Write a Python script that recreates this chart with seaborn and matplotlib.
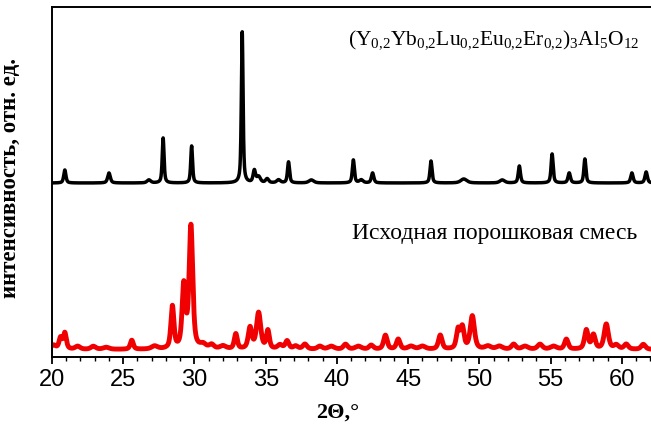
import numpy as np
import pandas as pd
import matplotlib
matplotlib.use("Agg")
import matplotlib.pyplot as plt
import seaborn as sns

# peak lists: position (2theta, deg), height (rel. units), FWHM (deg)
garnet_pos = [20.9, 24.0, 26.8, 27.8, 29.8, 33.35, 34.2, 34.5, 35.1, 35.9, 36.6, 38.2,
              41.15, 41.7, 42.5, 46.6, 48.9, 51.6, 52.8, 55.1, 56.3, 57.4, 60.7, 61.7]
garnet_int = [13, 10, 3, 45, 37, 151, 12, 6, 4, 3, 21, 3,
              23, 3, 10, 22, 4, 3, 17, 29, 10, 24, 10, 11]
garnet_fwhm = [0.18, 0.22, 0.3, 0.15, 0.15, 0.14, 0.2, 0.3, 0.25, 0.3, 0.17, 0.4,
               0.17, 0.3, 0.2, 0.17, 0.5, 0.4, 0.18, 0.17, 0.2, 0.17, 0.2, 0.2]

mix_pos = [20.1, 20.6, 20.9, 21.8, 22.9, 23.8, 25.6, 27.2, 28.45, 29.25, 29.75, 30.6, 31.2,
           32.0, 32.9, 33.9, 34.5, 35.15, 36.0, 36.5, 37.1, 37.75, 38.8, 39.6, 40.6, 41.5,
           42.4, 43.4, 44.3, 45.2, 46.0, 47.25, 48.5, 48.8, 49.5, 50.6, 51.4, 52.4, 53.2,
           54.25, 55.2, 56.1, 57.5, 58.0, 58.9, 59.6, 60.3, 61.5]
mix_int = [4, 11, 16, 3, 3, 2, 9, 3, 42, 62, 122, 4, 4,
           3, 15, 21, 36, 18, 4, 8, 3, 5, 3, 3, 5, 3,
           4, 14, 10, 3, 3, 14, 19, 21, 33, 3, 3, 5, 3,
           5, 3, 10, 19, 14, 25, 4, 5, 5]
mix_fwhm = [0.4, 0.25, 0.25, 0.4, 0.4, 0.5, 0.25, 0.5, 0.25, 0.28, 0.3, 0.5, 0.4,
            0.5, 0.25, 0.3, 0.35, 0.25, 0.4, 0.3, 0.4, 0.35, 0.4, 0.5, 0.35, 0.5,
            0.35, 0.3, 0.3, 0.5, 0.5, 0.3, 0.28, 0.28, 0.35, 0.5, 0.5, 0.35, 0.5,
            0.4, 0.5, 0.3, 0.3, 0.3, 0.35, 0.4, 0.35, 0.35]

x_ticks = [20, 25, 30, 35, 40, 45, 50, 55, 60]


def profile(tt, pos, amp, fwhm):
    y = np.zeros_like(tt)
    for p, a, w in zip(pos, amp, fwhm):
        g = w / 2.0
        y += a * (0.6 * g**2 / ((tt - p)**2 + g**2)
                  + 0.4 * np.exp(-4 * np.log(2) * (tt - p)**2 / w**2))
    return y


two_theta = np.arange(20.0, 62.1, 0.01)
garnet = profile(two_theta, garnet_pos, garnet_int, garnet_fwhm)
mix = profile(two_theta, mix_pos, mix_int, mix_fwhm)

df = pd.concat([
    pd.DataFrame({"2theta": two_theta, "I": garnet + 174, "sample": "garnet"}),
    pd.DataFrame({"2theta": two_theta, "I": mix + 7.5, "sample": "mix"}),
])

sns.set_style("ticks")
plt.rcParams["font.family"] = ["Liberation Sans", "DejaVu Sans"]
plt.rcParams["mathtext.fontset"] = "custom"
plt.rcParams["mathtext.rm"] = "Liberation Serif"
plt.rcParams["mathtext.it"] = "Liberation Serif:italic"
for key in ["text.color", "axes.labelcolor", "xtick.color", "axes.edgecolor"]:
    plt.rcParams[key] = "black"

fig = plt.figure(figsize=(6.51, 4.25), dpi=100)
ax = fig.add_axes([52 / 651, 68 / 425, 599 / 651, 350 / 425])

sns.lineplot(data=df[df["sample"] == "garnet"], x="2theta", y="I", color="black",
             lw=2.5, ax=ax, legend=False)
sns.lineplot(data=df[df["sample"] == "mix"], x="2theta", y="I", color="#f00000",
             lw=3.5, ax=ax, legend=False)

ax.set_xlim(20, 62.04)
ax.set_ylim(0, 350)
ax.set_xticks(x_ticks)
ax.set_xticks(np.arange(20, 63, 1), minor=True)
ax.set_yticks([])
ax.tick_params(axis="x", which="major", direction="out", length=5, width=1.3,
               labelsize=17, pad=4)
ax.tick_params(axis="x", which="minor", direction="out", length=3, width=1.0)
ax.spines["right"].set_visible(False)
for s in ["left", "bottom", "top"]:
    ax.spines[s].set_linewidth(1.4)

ax.set_xlabel("2Θ,°", family="Liberation Serif", fontweight="bold", fontsize=16)
ax.xaxis.set_label_coords(0.477, -0.13)
ax.set_ylabel("интенсивность, отн. ед.", family="Liberation Serif",
              fontweight="bold", fontsize=16.5)
ax.yaxis.set_label_coords(-0.052, 0.51)

ax.text(51.0, 0.906, r"$\mathrm{(Y_{0{,}2}Yb_{0{,}2}Lu_{0{,}2}Eu_{0{,}2}Er_{0{,}2})_3Al_5O_{12}}$",
        transform=ax.get_xaxis_transform(), ha="center", va="center", fontsize=15.5)
ax.text(51.1, 0.354, "Исходная порошковая смесь", family="Liberation Serif",
        transform=ax.get_xaxis_transform(), ha="center", va="center", fontsize=17)

plt.savefig("out.png", dpi=100)
